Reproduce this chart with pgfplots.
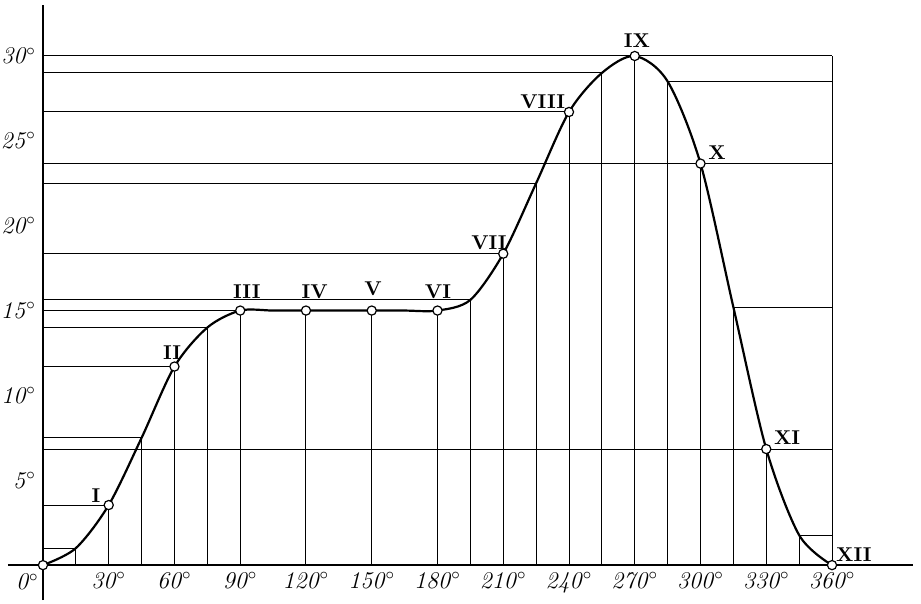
\documentclass[border=0pt]{standalone}
\usepackage{pgfplots}
\pgfplotsset{compat=1.18}
\begin{document}
\begin{tikzpicture}
\begin{axis}[
  scale only axis,
  width=452.6pt, height=297.5pt,
  xmin=-16, xmax=397, ymin=-2.06, ymax=33,
  axis lines=middle,
  axis line style={-, line width=0.7pt},
  xtick={30,60,...,360},
  xticklabels={\textit{30}$^\circ$,\textit{60}$^\circ$,\textit{90}$^\circ$,\textit{120}$^\circ$,\textit{150}$^\circ$,\textit{180}$^\circ$,\textit{210}$^\circ$,\textit{240}$^\circ$,\textit{270}$^\circ$,\textit{300}$^\circ$,\textit{330}$^\circ$,\textit{360}$^\circ$},
  ytick={5,10,...,30},
  yticklabels={\textit{5}$^\circ$,\textit{10}$^\circ$,\textit{15}$^\circ$,\textit{20}$^\circ$,\textit{25}$^\circ$,\textit{30}$^\circ$},
  tick label style={font=\large},
  major tick length=0pt,
  hide obscured x ticks=false,
  hide obscured y ticks=false,
  clip=false,
  guide/.style={black, line width=0.5pt, forget plot},
]
% horizontal construction lines: from the y axis to the curve
\addplot[guide] coordinates {(0,1.0) (15,1.0)};
\addplot[guide] coordinates {(0,3.54) (30,3.54)};
\addplot[guide] coordinates {(0,7.5) (45,7.5)};
\addplot[guide] coordinates {(0,11.7) (60,11.7)};
\addplot[guide] coordinates {(0,14.0) (75,14.0)};
\addplot[guide] coordinates {(0,15) (90,15)};
\addplot[guide] coordinates {(0,15.63) (195,15.63)};
\addplot[guide] coordinates {(0,18.35) (210,18.35)};
\addplot[guide] coordinates {(0,22.5) (225,22.5)};
\addplot[guide] coordinates {(0,26.7) (240,26.7)};
\addplot[guide] coordinates {(0,29.0) (255,29.0)};
% full-width lines
\addplot[guide] coordinates {(0,30) (360,30)};
\addplot[guide] coordinates {(0,23.66) (360,23.66)};
\addplot[guide] coordinates {(0,6.84) (360,6.84)};
% from the curve to the right border
\addplot[guide] coordinates {(285,28.5) (360,28.5)};
\addplot[guide] coordinates {(315,15.2) (360,15.2)};
\addplot[guide] coordinates {(345,1.77) (360,1.77)};
% vertical lines
\addplot[guide, ycomb] coordinates {
  (15,1.0) (30,3.54) (45,7.5) (60,11.7) (75,14.0) (90,15)
  (120,15) (150,15) (180,15) (195,15.63) (210,18.35) (225,22.5)
  (240,26.7) (255,29.0) (270,30) (285,28.5) (300,23.66) (315,15.2)
  (330,6.84) (345,1.77) (360,30)};
% the curve
\addplot[black, line width=1.1pt, smooth, tension=0.5] coordinates {
  (0,0) (15,1.0) (30,3.54) (45,7.5) (60,11.7) (75,14.0) (90,15)
  (105,15) (120,15) (150,15) (165,15) (180,15) (195,15.63) (210,18.35)
  (225,22.5) (240,26.7) (255,29.0) (270,30) (285,28.5) (300,23.66)
  (315,15.2) (330,6.84) (345,1.77) (360,0)};
% points
\addplot[only marks, mark=*, mark size=2.3pt,
  mark options={fill=white, draw=black, line width=0.6pt}] coordinates {
  (0,0) (30,3.54) (60,11.7) (90,15) (120,15) (150,15) (180,15)
  (210,18.35) (240,26.7) (270,30) (300,23.66) (330,6.84) (360,0)};
% labels
\begin{scope}[every node/.style={font=\normalsize\bfseries}]
\node at (axis cs:24.2,4.1) {I};
\node at (axis cs:58.9,12.55) {II};
\node at (axis cs:93,16.1) {III};
\node at (axis cs:124,16.1) {IV};
\node at (axis cs:150.6,16.3) {V};
\node at (axis cs:180.2,16.1) {VI};
\node at (axis cs:203.5,19.0) {VII};
\node at (axis cs:228,27.3) {VIII};
\node at (axis cs:271,30.9) {IX};
\node at (axis cs:307.5,24.3) {X};
\node at (axis cs:339.5,7.5) {XI};
\node at (axis cs:370,0.6) {XII};
\end{scope}
\node[anchor=north east, inner sep=2pt, font=\large] at (axis cs:0,-0.25) {\textit{0}$^\circ$};
\coordinate (bl) at (axis cs:-19.6,-2.24);
\coordinate (tr) at (axis cs:400.6,33.3);
\end{axis}
\pgfresetboundingbox
\path (bl) rectangle (tr);
\end{tikzpicture}
\end{document}
